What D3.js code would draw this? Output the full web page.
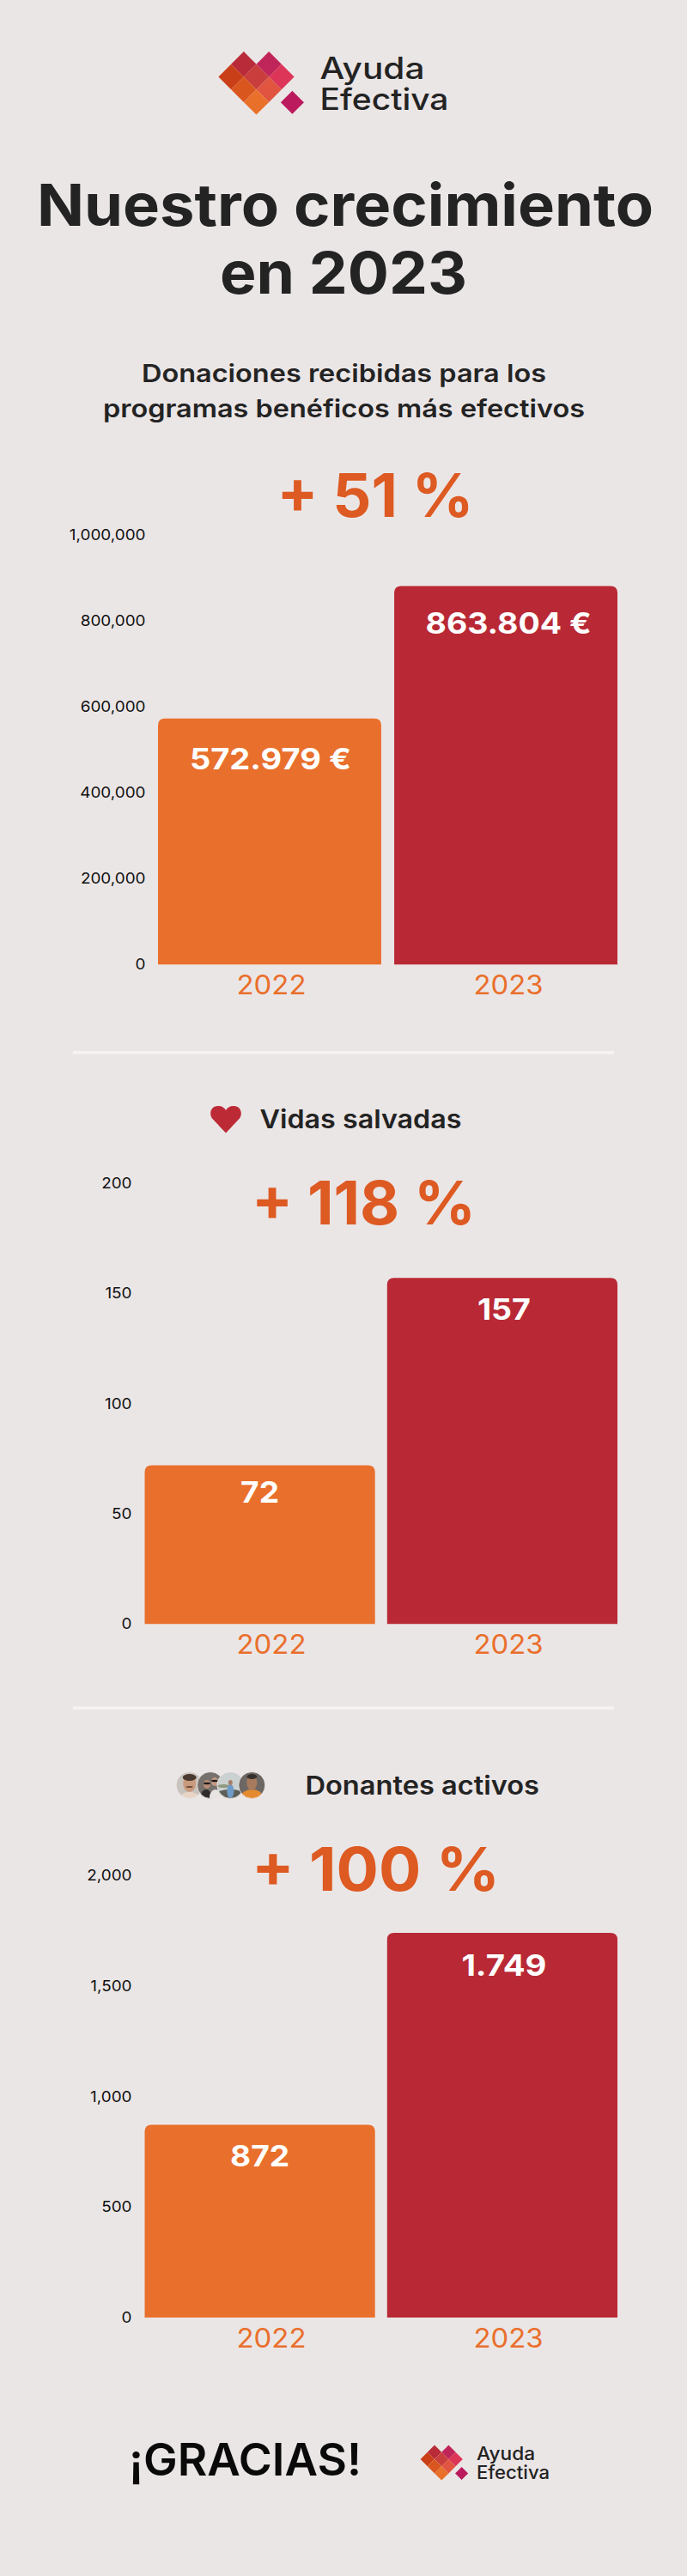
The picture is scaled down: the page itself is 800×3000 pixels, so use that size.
<!DOCTYPE html>
<html>
<head>
<meta charset="utf-8">
<script src="https://cdn.jsdelivr.net/npm/d3@7"></script>
<style>
  html, body { margin: 0; padding: 0; background: #ebe6e6; }
  svg { display: block; }
  text { font-family: Inter, "Noto Sans", sans-serif; }
  .tick text { font-size: 17.5px; font-weight: 400; fill: #111; }
</style>
</head>
<body>
<svg id="chart" width="800" height="3000"></svg>
<script>
// --- DATOS ---
const years = ["2022", "2023"];

// alturas; las etiquetas dicen otra cosa en 2023
const donationValues = [572979, 881000];
const donationLabels = ["572.979 €", "863.804 €"];
const donationTicks  = [0, 200000, 400000, 600000, 800000, 1000000];

const livesValues = [72, 157];
const livesLabels = ["72", "157"];
const livesTicks  = [0, 50, 100, 150, 200];

const donorValues = [872, 1740];
const donorLabels = ["872", "1.749"];
const donorTicks  = [0, 500, 1000, 1500, 2000];

const BG     = "#ebe6e6";
const INK    = "#232323";
const ORANGE = "#e96f2c";
const RED    = "#b92935";
const GROWTH = "#dd5a22";

const svg = d3.select("#chart");

// texto con ancho fijo, para calzar con el original
function label(x, y, str, size, weight, fill, width, anchor) {
  const t = svg.append("text")
    .attr("x", x).attr("y", y)
    .attr("text-anchor", anchor || "start")
    .attr("fill", fill)
    .style("font-size", size + "px").style("font-weight", weight)
    .text(str);
  if (width) t.attr("textLength", width).attr("lengthAdjust", "spacingAndGlyphs");
  return t;
}

// --- LOGO ---
const logoCells = [
  [-1, -1, "#b92b38"], [1, -1, "#c0255a"],
  [-2, 0, "#c93f17"], [0, 0, "#c93e3c"], [2, 0, "#dc3558"],
  [-1, 1, "#d9571f"], [1, 1, "#e05440"],
  [0, 2, "#e9702b"]
];

function drawLogo(cx, cy, unit, textX, size, base1, base2, w1, w2) {
  const g = svg.append("g").attr("transform", `translate(${cx},${cy})`);
  g.selectAll("path").data(logoCells).join("path")
    .attr("d", d => {
      const x = d[0] * unit, y = d[1] * unit;
      return `M${x},${y - unit}L${x + unit},${y}L${x},${y + unit}L${x - unit},${y}Z`;
    })
    .attr("fill", d => d[2]);
  const dx = 2.85 * unit, dy = 2.02 * unit, r = 0.92 * unit;
  g.append("path")
    .attr("d", `M${dx},${dy - r}L${dx + r},${dy}L${dx},${dy + r}L${dx - r},${dy}Z`)
    .attr("fill", "#bb1a5c");
  label(textX, base1, "Ayuda", size, 500, INK, w1);
  label(textX, base2, "Efectiva", size, 500, INK, w2);
}

drawLogo(298.5, 89.5, 14.7, 372.5, 35, 91.5, 128, 122, 150);

// --- TITULOS ---
label(402, 263, "Nuestro crecimiento", 68, 700, INK, 718, "middle");
label(400, 342, "en 2023", 68, 700, INK, 288, "middle");
label(400.5, 445, "Donaciones recibidas para los", 29, 600, INK, 471, "middle");
label(400.5, 486, "programas benéficos más efectivos", 29, 600, INK, 561, "middle");

// --- GRAFICOS ---
function barPath(x, y, w, h, r) {
  return `M${x},${y + h}V${y + r}Q${x},${y} ${x + r},${y}H${x + w - r}Q${x + w},${y} ${x + w},${y + r}V${y + h}Z`;
}

function drawBars(cfg) {
  const x = d3.scaleBand().domain(years)
    .range([cfg.left, 719]).paddingInner(cfg.pad);
  const y = d3.scaleLinear().domain([0, cfg.ticks[cfg.ticks.length - 1]])
    .range([cfg.bottom, cfg.top]);
  const g = svg.append("g");

  g.selectAll(".bar").data(cfg.values).join("path")
    .attr("class", "bar")
    .attr("d", (d, i) => barPath(x(years[i]), y(d), x.bandwidth(), cfg.bottom - y(d), 8))
    .attr("fill", (d, i) => (i === 0 ? ORANGE : RED));

  // etiquetas de valor dentro de las barras
  g.selectAll(".val").data(cfg.values).join("text")
    .attr("class", "val")
    .attr("x", (d, i) => x(years[i]) + x.bandwidth() / 2 + cfg.valShift[i])
    .attr("y", (d, i) => y(d) + cfg.valDrop[i])
    .attr("text-anchor", "middle")
    .attr("fill", "#fff")
    .attr("textLength", (d, i) => cfg.valWidth[i])
    .attr("lengthAdjust", "spacingAndGlyphs")
    .style("font-size", "34.5px").style("font-weight", 700)
    .text((d, i) => cfg.labels[i]);

  // eje Y
  const axis = g.append("g")
    .attr("transform", `translate(${cfg.axisX},0)`)
    .call(d3.axisLeft(y).tickValues(cfg.ticks).tickSize(0).tickPadding(0)
      .tickFormat(d3.format(",")));
  axis.select(".domain").remove();
  axis.selectAll(".tick text").each(function () {
    d3.select(this)
      .attr("textLength", this.getComputedTextLength() * 1.08)
      .attr("lengthAdjust", "spacingAndGlyphs");
  });

  // años: el original no los centra en la barra
  g.selectAll(".year").data(years).join("text")
    .attr("class", "year")
    .attr("x", (d, i) => [316, 592][i])
    .attr("y", cfg.bottom + 34.5)
    .attr("text-anchor", "middle")
    .attr("fill", ORANGE)
    .attr("textLength", 81)
    .attr("lengthAdjust", "spacingAndGlyphs")
    .style("font-size", "30.5px").style("font-weight", 400)
    .text(d => d);
}

label(437, 602, "+ 51 %", 70, 700, GROWTH, 229, "middle");
drawBars({
  values: donationValues, labels: donationLabels, ticks: donationTicks,
  left: 184, pad: 0.055, top: 623, bottom: 1123.3, axisX: 169.5,
  valShift: [1, 3], valDrop: [59.5, 55], valWidth: [188, 193]
});

svg.append("rect").attr("x", 85).attr("y", 1224).attr("width", 630).attr("height", 3.5).attr("fill", "#f7f3f3");

svg.append("path")
  .attr("d", "M263,1319.5L247.5,1303C243,1298 245,1288 254,1288C258.5,1288 261.5,1290 263,1293C264.5,1290 267.5,1288 272,1288C281,1288 283,1298 278.5,1303Z")
  .attr("fill", "#bc2a36");
label(302.5, 1314, "Vidas salvadas", 30, 600, INK, 235);

label(423.5, 1426, "+ 118 %", 70, 700, GROWTH, 261, "middle");
drawBars({
  values: livesValues, labels: livesLabels, ticks: livesTicks,
  left: 168.5, pad: 0.05, top: 1378, bottom: 1891.3, axisX: 153.5,
  valShift: [0, 2], valDrop: [43, 49], valWidth: [45, 62]
});

svg.append("rect").attr("x", 85).attr("y", 1987.5).attr("width", 630).attr("height", 3.5).attr("fill", "#f7f3f3");

// --- AVATARES (aproximacion de las fotos) ---
const avatarX = [220.7, 245, 268.3, 293.3];
const defs = svg.append("defs");
avatarX.forEach((ax, i) => {
  defs.append("clipPath").attr("id", "av" + i)
    .append("circle").attr("cx", ax).attr("cy", 2079).attr("r", 15.5);
});
function avatar(i, bg, shapes) {
  const g = svg.append("g").attr("clip-path", `url(#av${i})`);
  g.append("circle").attr("cx", avatarX[i]).attr("cy", 2079).attr("r", 15.5).attr("fill", bg);
  shapes.forEach(s => {
    g.append("ellipse")
      .attr("cx", avatarX[i] + s[0]).attr("cy", 2079 + s[1])
      .attr("rx", s[2]).attr("ry", s[3]).attr("fill", s[4]);
  });
  svg.append("circle").attr("cx", avatarX[i]).attr("cy", 2079).attr("r", 15.5)
    .attr("fill", "none").attr("stroke", BG).attr("stroke-width", 0.8);
}
avatar(0, "#c8c3bc", [[0, 13, 10, 5, "#e8d5c6"], [0, -2, 7.5, 10, "#c99a7c"], [0, -9, 8, 4, "#4a3a30"], [0, 2, 4, 1, "#6b4a3a"]]);
avatar(1, "#77716d", [[-5, 13, 6, 8, "#2d2a2a"], [6, 14, 7, 9, "#e8e4e2"], [-4, -1, 4, 5, "#b98d74"], [5, -4, 4, 5, "#c49a80"], [-4, -2, 4, 1.2, "#1c1c1c"], [5, -5, 4, 1.2, "#1c1c1c"]]);
avatar(2, "#cbd0d0", [[0, 12, 18, 7, "#5c5f58"], [-8, 1, 7, 2, "#8f9a7e"], [0, 7, 4, 8, "#6f9bc9"], [0, -3, 2.5, 3, "#a87f66"]]);
avatar(3, "#6d6764", [[0, 13, 12, 8, "#e58b2f"], [0, -3, 6, 9, "#a87b5e"], [0, -10, 6, 3, "#35302d"]]);

label(355.5, 2089.5, "Donantes activos", 30, 600, INK, 272.5);

label(437.5, 2202, "+ 100 %", 70, 700, GROWTH, 289, "middle");
drawBars({
  values: donorValues, labels: donorLabels, ticks: donorTicks,
  left: 168.5, pad: 0.05, top: 2184, bottom: 2699, axisX: 153.5,
  valShift: [0, 2], valDrop: [48.5, 50], valWidth: [69, 99]
});

// --- PIE ---
label(150, 2883, "¡GRACIAS!", 52, 600, "#0a0a0a", 271);
drawLogo(514.2, 2864, 8.2, 555, 21, 2865, 2887, 68, 85);
</script>
</body>
</html>
